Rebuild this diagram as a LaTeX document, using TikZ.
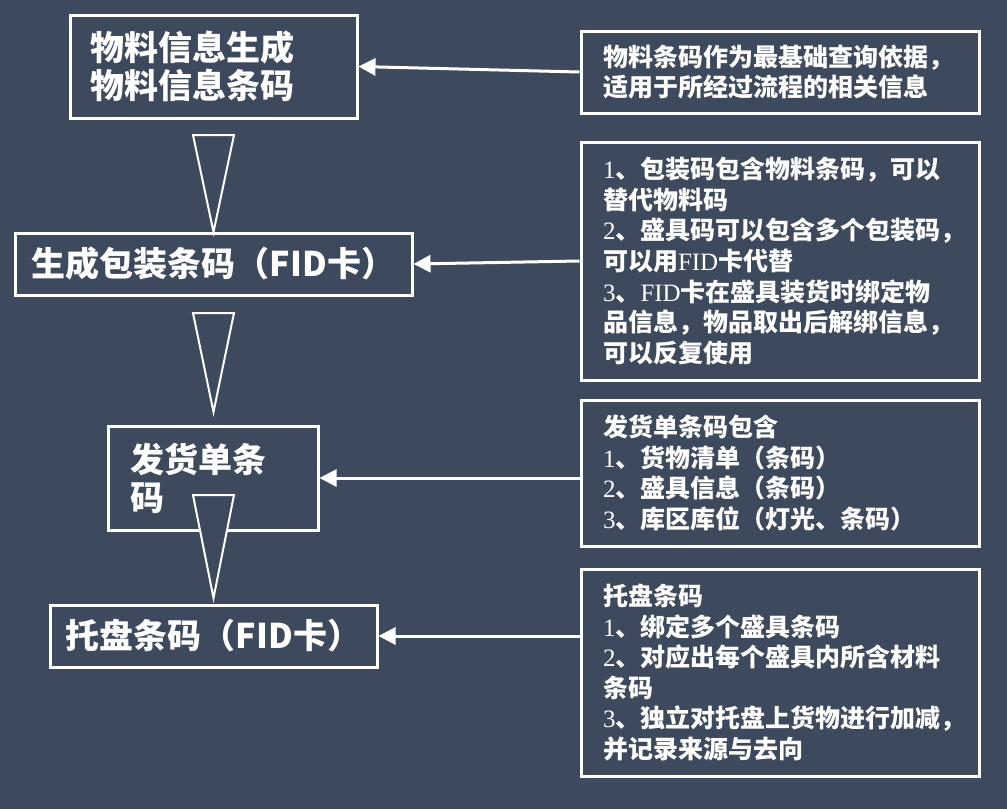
\documentclass[tikz,border=0pt]{standalone}
\usepackage{fontspec}
\setmainfont{Noto Sans CJK SC}
\newfontfamily\ser{Liberation Serif}
\usetikzlibrary{arrows.meta}
\definecolor{bg}{RGB}{61,73,93}
\tikzset{
  bigbox/.style={draw=white, line width=3pt, text=white, inner ysep=0pt,
    font=\fontsize{34pt}{38pt}\selectfont\bfseries},
  notebox/.style={draw=white, line width=3pt, text=white, inner xsep=22pt, inner ysep=0pt,
    minimum width=398pt, text width=354pt, align=left,
    font=\fontsize{25pt}{30.6pt}\selectfont\bfseries},
  link/.style={draw=white, line width=3pt, -{Triangle[length=17pt,width=17pt]}},
  tri/.style={draw=white, line width=2pt, fill=bg, line join=miter}
}
\newcommand{\sn}[1]{{\ser\mdseries #1}}
\begin{document}
\begin{tikzpicture}[x=1pt,y=-1pt]
\fill[bg] (0,0) rectangle (1007,809);
\useasboundingbox (0,0) rectangle (1007,809);

\node[bigbox, minimum width=287pt, minimum height=103pt, inner xsep=20pt, text width=247pt, align=left]
  (b1) at (213.5,66.5) {物料信息生成\\物料信息条码};
\node[bigbox, minimum width=397pt, minimum height=62pt, inner xsep=0pt, text width=397pt, align=center]
  (b2) at (213.5,264) {生成包装条码（FID卡）};
\node[bigbox, minimum width=210pt, minimum height=104pt, inner xsep=22pt, text width=166pt, align=left]
  (b3) at (213,478) {发货单条\\码};
\node[bigbox, minimum width=327pt, minimum height=62pt, inner xsep=0pt, text width=327pt, align=center]
  (b4) at (213.5,636) {托盘条码（FID卡）};

\node[notebox, minimum height=82pt] (r1) at (780,72)
  {物料条码作为最基础查询依据，\\适用于所经过流程的相关信息};
\node[notebox, minimum height=238pt] (r2) at (780,261)
  {\sn{1}、包装码包含物料条码，可以\\替代物料码\\\sn{2}、盛具码可以包含多个包装码，\\可以用\sn{FID}卡代替\\\sn{3}、\sn{FID}卡在盛具装货时绑定物\\品信息，物品取出后解绑信息，\\可以反复使用};
\node[notebox, minimum height=146pt] (r3) at (780,473)
  {发货单条码包含\\\sn{1}、货物清单（条码）\\\sn{2}、盛具信息（条码）\\\sn{3}、库区库位（灯光、条码）};
\node[notebox, minimum height=207pt] (r4) at (780,672.5)
  {托盘条码\\\sn{1}、绑定多个盛具条码\\\sn{2}、对应出每个盛具内所含材料\\条码\\\sn{3}、独立对托盘上货物进行加减，\\并记录来源与去向};

\draw[tri] (193,135) -- (234,135) -- (213.5,232) -- cycle;
\draw[tri] (193,313) -- (234,313) -- (213.5,412) -- cycle;
\draw[tri] (193,495) -- (234,495) -- (213.5,598) -- cycle;

\draw[link] (r1.west) -- (b1.east);
\draw[link] (r2.west) -- (b2.east);
\draw[link] (r3.west |- b3.east) -- (b3.east);
\draw[link] (r4.west |- b4.east) -- (b4.east);
\end{tikzpicture}
\end{document}
